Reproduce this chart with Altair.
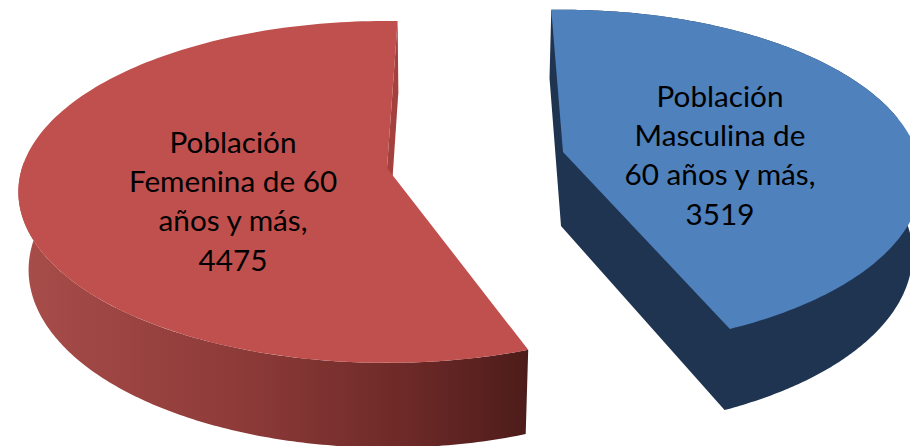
import numpy as np
import altair as alt

# Data
labels = ["Población\nFemenina de 60\naños y más,\n4475", "Población\nMasculina de\n60 años y más,\n3519"]
values = [4475, 3519]
total = sum(values)

# Pie layout: apex, perspective and wall depth for each exploded slice
RED = dict(cx=387, cy=168, a=167.6, b=365, p=0.14, start=1.9, sweep=-360 * values[0] / total,
           cx2=388, cy2=245, kx=0.975, ky=1.04)
BLUE = dict(cx=563, cy=152, a=165, b=354, p=0.16, start=-2.2, sweep=360 * values[1] / total,
            cx2=561, cy2=226, kx=0.98, ky=1.04)

OFFSET = 8
W, H = 902, 438


def offset(s, deg):
    t = np.radians(deg)
    c = -np.cos(t)
    d = 1 - s["p"] * c
    return s["b"] * np.sin(t) / d, s["a"] * c / d


def top(s, deg):
    dx, dy = offset(s, deg)
    return [float(s["cx"] + dx), float(s["cy"] + dy)]


def bottom(s, deg):
    dx, dy = offset(s, deg)
    return [float(s["cx2"] + s["kx"] * dx), float(s["cy2"] + s["ky"] * dy)]


def arc(s, fn, a0, a1, n=160):
    return [fn(s, d) for d in np.linspace(a0, a1, n)]


def feature(points):
    ring = points + [points[0]]
    return {"type": "Feature", "properties": {}, "geometry": {"type": "Polygon", "coordinates": [ring]}}


def sector(s):
    end = s["start"] + s["sweep"]
    return [[s["cx"], s["cy"]]] + arc(s, top, s["start"], end)


def outer_wall(s, a0):
    end = s["start"] + s["sweep"]
    return arc(s, top, a0, end) + arc(s, bottom, end, a0)


def cut_wall(s, deg):
    return [top(s, deg), bottom(s, deg), [s["cx2"], s["cy2"]], [s["cx"], s["cy"]]]


def silhouette(s, a_side):
    """Blue wall outline: cut faces and outer wall as a single polygon."""
    end = s["start"] + s["sweep"]
    return (
        [top(s, s["start"]), bottom(s, s["start"]), [s["cx2"], s["cy2"]]]
        + arc(s, bottom, end, a_side)
        + arc(s, top, a_side, s["start"])
    )


projection = alt.Projection(type="identity", scale=1, translate=[-OFFSET, -OFFSET])


def shape(points, fill):
    return alt.Chart(alt.Data(values=[feature(points)])).mark_geoshape(
        fill=fill, stroke=None, strokeWidth=0
    ).project(**projection.to_dict())


red_wall_fill = alt.Gradient(
    gradient="linear", x1=0, x2=1, y1=0, y2=0,
    stops=[
        alt.GradientStop(color="#A84D4A", offset=0),
        alt.GradientStop(color="#8C3A38", offset=0.45),
        alt.GradientStop(color="#6E2A28", offset=0.75),
        alt.GradientStop(color="#4D1C1A", offset=1),
    ],
)

df_text = [
    {"label": labels[0], "px": 233 - OFFSET, "py": 143.5 - OFFSET},
    {"label": labels[1], "px": 720 - OFFSET, "py": 97.5 - OFFSET},
]

text = alt.Chart(alt.Data(values=df_text)).mark_text(
    font="Lato", fontSize=29.7, color="#000000", lineBreak="\n", lineHeight=39.4,
    align="center", baseline="middle"
).encode(
    text="label:N",
    x=alt.X("px:Q", scale=alt.Scale(domain=[0, W], range=[0, W]), axis=None),
    y=alt.Y("py:Q", scale=alt.Scale(domain=[0, H], range=[0, H]), axis=None),
)

geo = alt.layer(
    shape(silhouette(BLUE, BLUE["start"] + 80), "#1F3450"),
    shape(sector(BLUE), "#4F81BD"),
    shape(outer_wall(RED, -88), red_wall_fill),
    shape(cut_wall(RED, RED["start"]), "#A4403E"),
    shape(sector(RED), "#C0504D"),
)

chart = alt.layer(geo, text).resolve_scale(x="independent", y="independent").properties(
    width=W, height=H, padding=0
).configure_view(stroke=None)

chart.save("out.html", embed_options={"renderer": "svg", "actions": False})
